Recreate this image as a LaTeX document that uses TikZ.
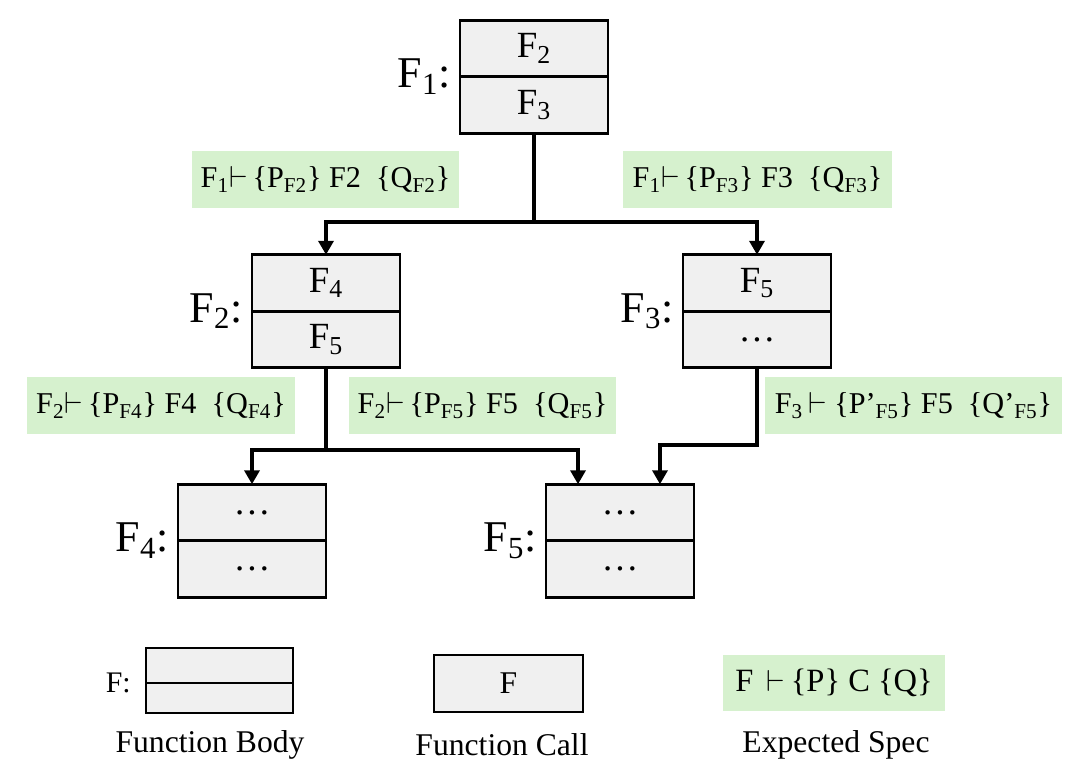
\documentclass[tikz,border=0pt]{standalone}
\usepackage{fontspec}
\setmainfont{Liberation Serif}
\usetikzlibrary{arrows.meta,positioning}
\definecolor{boxgray}{HTML}{F0F0F0}
\definecolor{specgreen}{HTML}{D6F1CE}
\newcommand{\sub}[1]{\textsubscript{#1}}

\begin{document}
\begin{tikzpicture}[
    x=0.02cm, y=-0.02cm,
    half/.style={draw, line width=1.5pt, fill=boxgray, minimum width=2.96cm, minimum height=1.13cm, inner sep=0pt, outer sep=0pt, font=\fontsize{21}{24}\selectfont},
    fname/.style={anchor=east, inner sep=0pt, font=\fontsize{25}{28}\selectfont},
    spec/.style={fill=specgreen, minimum height=1.14cm, inner sep=0pt, font=\fontsize{17.2}{20}\selectfont},
    arrow/.style={-{Triangle[width=0.3cm,length=0.28cm]}, line width=2.1pt},
    caption/.style={font=\fontsize{18}{21}\selectfont}
  ]
    \useasboundingbox (0,0) rectangle (1080,775);
    % function bodies
    \node[half] (f1top) at (534,48.5) {F\sub{2}};
    \node[half, below=0pt of f1top] (f1bot) {F\sub{3}};
    \node[fname, left=0.18cm of f1top.south west] (f1name) {F\sub{1}:};
    \node[half] (f2top) at (326,283) {F\sub{4}};
    \node[half, below=0pt of f2top] (f2bot) {F\sub{5}};
    \node[fname, left=0.18cm of f2top.south west] (f2name) {F\sub{2}:};
    \node[half] (f3top) at (757,283) {F\sub{5}};
    \node[half, below=0pt of f3top] (f3bot) {\dots};
    \node[fname, left=0.18cm of f3top.south west] (f3name) {F\sub{3}:};
    \node[half] (f4top) at (252,512.5) {\dots};
    \node[half, below=0pt of f4top] (f4bot) {\dots};
    \node[fname, left=0.18cm of f4top.south west] (f4name) {F\sub{4}:};
    \node[half] (f5top) at (620,512.5) {\dots};
    \node[half, below=0pt of f5top] (f5bot) {\dots};
    \node[fname, left=0.18cm of f5top.south west] (f5name) {F\sub{5}:};
    % expected specs
    \node[spec, minimum width=5.34cm] (s12) at (325.5,179.5) {F\sub{1}$\vdash$\,\{P\sub{F2}\} F2 \ \{Q\sub{F2}\}};
    \node[spec, minimum width=5.38cm] (s13) at (757.5,179.5) {F\sub{1}$\vdash$\,\{P\sub{F3}\} F3 \ \{Q\sub{F3}\}};
    \node[spec, minimum width=5.36cm] (s24) at (161,405.5) {F\sub{2}$\vdash$\,\{P\sub{F4}\} F4 \ \{Q\sub{F4}\}};
    \node[spec, minimum width=5.34cm] (s25) at (482.5,405.5) {F\sub{2}$\vdash$\,\{P\sub{F5}\} F5 \ \{Q\sub{F5}\}};
    \node[spec, minimum width=5.94cm] (s35) at (913.5,405.5) {F\sub{3}\,$\vdash$\ \{P'\sub{F5}\} F5 \ \{Q'\sub{F5}\}};
    % calls
    \coordinate (j1) at (534,222);
    \draw[line width=2.1pt] (f1bot.south) -- (j1);
    \draw[arrow] (j1) -| (f2top.north);
    \draw[arrow] (j1) -| (f3top.north);
    \coordinate (j2) at (326,450);
    \draw[line width=2.1pt] (f2bot.south) -- (j2);
    \draw[arrow] (j2) -| (f4top.north);
    \draw[arrow] (j2) -| ([xshift=-0.84cm]f5top.north);
    \coordinate (j3) at (757,445);
    \draw[arrow] (f3bot.south) -- (j3) -| ([xshift=0.8cm]f5top.north);
    % legend
    \node[half, minimum width=2.94cm, minimum height=0.7cm] (ltop) at (219.5,665.5) {};
    \node[half, minimum width=2.94cm, minimum height=0.6cm, below=0pt of ltop] (lbot) {};
    \node[fname, font=\fontsize{17}{20}\selectfont, left=0.3cm of ltop.south west] (lname) {F:};
    \node[half, minimum width=2.98cm, minimum height=1.14cm, font=\fontsize{18}{21}\selectfont] (lcall) at (508.5,683.5) {F};
    \node[spec, minimum width=4.44cm, minimum height=1.12cm, font=\fontsize{18.5}{21}\selectfont] (lspec) at (834,683) {F \,$\vdash$\,\{P\} C \{Q\}};
    \node[caption] (cbody) at (210,745) {Function Body};
    \node[caption] (ccall) at (502,745) {Function Call};
    \node[caption] (cspec) at (836,745) {Expected Spec};
  \end{tikzpicture}
\end{document}
